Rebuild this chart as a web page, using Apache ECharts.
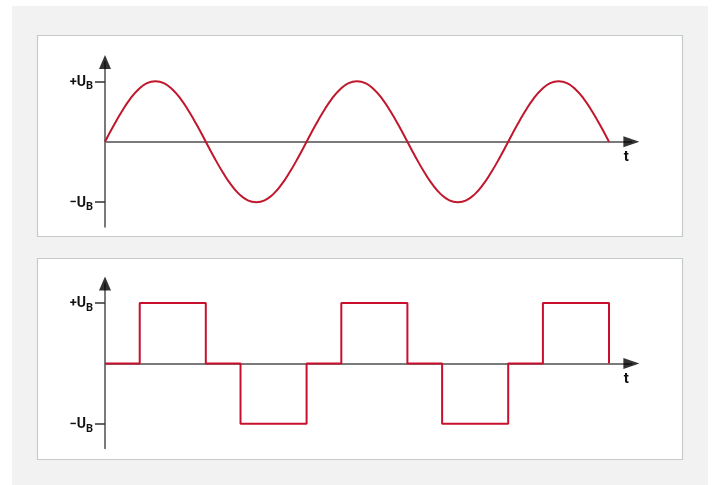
<!DOCTYPE html>
<html><head><meta charset="utf-8">
<script src="https://cdn.jsdelivr.net/npm/echarts@6/dist/echarts.min.js"></script>
<style>html,body{margin:0;padding:0;background:#fff}#c{width:712px;height:485px}</style>
</head><body><div id="c"></div>
<script>
// ---- data (phase angle in degrees) ----
const sineX = [0,15,30,45,60,75,90,105,120,135,150,165,180,195,210,225,240,255,270,285,300,315,330,345,
  360,375,390,405,420,435,450,465,480,495,510,525,540,555,570,585,600,615,630,645,660,675,690,705,
  720,735,750,765,780,795,810,825,840,855,870,885,900];
const sineY = [0,.26,.5,.71,.87,.97,1,.97,.87,.71,.5,.26,0,-.26,-.5,-.71,-.87,-.97,-1,-.97,-.87,-.71,-.5,-.26,
  0,.26,.5,.71,.87,.97,1,.97,.87,.71,.5,.26,0,-.26,-.5,-.71,-.87,-.97,-1,-.97,-.87,-.71,-.5,-.26,
  0,.26,.5,.71,.87,.97,1,.97,.87,.71,.5,.26,0];
const squareX = [0,62,180,242,360,422,540,602,720,782,900];
const squareY = [0,1,0,-1,0,1,0,-1,0,1,0];
const yTickValues = [-1, 1];
const yTickLabels = {'1': '+', '-1': '\u2212'};
const xAxisName = 't';
const xMin = 0, xMax = 940, yMin = -1.405, yMax = 1.32;

const AXIS = '#7a7a7a';
const FONT = "'Liberation Sans Narrow', Roboto, 'Noto Sans', sans-serif";

function pairs(xs, ys) { return xs.map((x, i) => [x, ys[i]]); }

const grids = [
  {left: 105, right: 80.6, top: 62, bottom: 258.3, outerBoundsMode: 'none'},
  {left: 105, right: 80.6, top: 283.6, bottom: 36.7, outerBoundsMode: 'none'}
];

function xAxis(i) {
  return {
    gridIndex: i, type: 'value', min: xMin, max: xMax,
    axisLine: {show: true, onZero: true, lineStyle: {color: AXIS, width: 2}},
    axisTick: {show: false}, axisLabel: {show: false}, splitLine: {show: false},
    name: xAxisName, nameLocation: 'end', nameGap: -5,
    nameTextStyle: {fontFamily: FONT, fontWeight: 'bold', fontSize: 15, color: '#111',
      align: 'center', verticalAlign: 'top', padding: [8, 0, 0, 0]}
  };
}
function yAxis(i) {
  return {
    gridIndex: i, type: 'value', min: yMin, max: yMax,
    axisLine: {show: true, onZero: false, lineStyle: {color: AXIS, width: 2}},
    axisTick: {show: true, length: 10, customValues: yTickValues, lineStyle: {color: '#333', width: 1.5}},
    axisLabel: {
      show: true, customValues: yTickValues, margin: 12, padding: [2, 0, 0, 0],
      formatter: v => '{s|' + (yTickLabels[String(v)] || '') + '}{u|U}{b|B}',
      rich: {
        s: {fontFamily: FONT, fontWeight: 'bold', fontSize: 13, color: '#111'},
        u: {fontFamily: FONT, fontWeight: 'bold', fontSize: 14, color: '#111'},
        b: {fontFamily: FONT, fontWeight: 'bold', fontSize: 11, color: '#111', padding: [8, 0, 0, 0]}
      }
    },
    splitLine: {show: false}
  };
}
function arrows(i) {
  return [
    {type: 'scatter', xAxisIndex: i, yAxisIndex: i, clip: false, silent: true, z: 10,
     data: [[xMax, 0]], symbol: 'triangle', symbolRotate: -90, symbolSize: [11, 16],
     itemStyle: {color: '#000'}},
    {type: 'scatter', xAxisIndex: i, yAxisIndex: i, clip: false, silent: true, z: 10,
     data: [[xMin, yMax]], symbol: 'triangle', symbolSize: [12, 14],
     itemStyle: {color: '#000'}}
  ];
}

const chart = echarts.init(document.getElementById('c'), null, {renderer: 'canvas'});
chart.setOption({
  animation: false,
  backgroundColor: '#fff',
  graphic: [
    {type: 'rect', z: -100, shape: {x: 12, y: 6, width: 696, height: 479}, style: {fill: '#f2f2f2'}},
    {type: 'rect', z: -99, shape: {x: 37.5, y: 35.5, width: 645, height: 201}, style: {fill: '#fff', stroke: '#c5cacd', lineWidth: 1.2}},
    {type: 'rect', z: -99, shape: {x: 37.5, y: 258.5, width: 645, height: 201}, style: {fill: '#fff', stroke: '#c5cacd', lineWidth: 1.2}}
  ],
  grid: grids,
  xAxis: [xAxis(0), xAxis(1)],
  yAxis: [yAxis(0), yAxis(1)],
  series: [
    {type: 'line', xAxisIndex: 0, yAxisIndex: 0, data: pairs(sineX, sineY), smooth: true,
     showSymbol: false, lineStyle: {color: '#c0172c', width: 2}, z: 5},
    {type: 'line', xAxisIndex: 1, yAxisIndex: 1, data: pairs(squareX, squareY), step: 'end',
     showSymbol: false, lineStyle: {color: '#c8102e', width: 2}, z: 5},
    ...arrows(0), ...arrows(1)
  ]
});
</script></body></html>
